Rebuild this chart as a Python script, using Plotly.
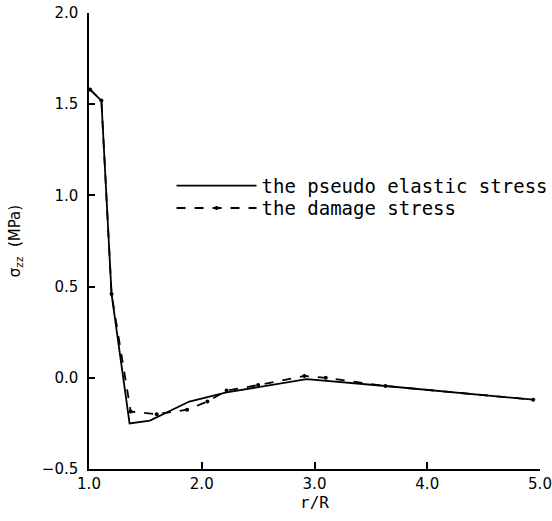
import plotly.graph_objects as go

# Pseudo elastic stress (solid line)
x_elastic = [1.01, 1.11, 1.20, 1.36, 1.54, 1.89, 2.22, 2.93, 3.63, 4.94]
y_elastic = [1.58, 1.52, 0.46, -0.25, -0.235, -0.13, -0.08, -0.007, -0.045, -0.12]

# Damage stress (dashed line with dots)
x_damage = [1.01, 1.11, 1.20, 1.37, 1.60, 1.87, 2.05, 2.22, 2.50, 2.91, 3.10, 3.63, 4.94]
y_damage = [1.58, 1.52, 0.46, -0.185, -0.20, -0.175, -0.13, -0.07, -0.04, 0.01, 0.0, -0.045, -0.12]

x_ticks = [1.0, 2.0, 3.0, 4.0, 5.0]
x_labels = ["1.0", "2.0", "3.0", "4.0", "5.0"]
y_ticks = [-0.5, 0.0, 0.5, 1.0, 1.5, 2.0]
y_labels = ["\u22120.5", "0.0", "0.5", "1.0", "1.5", "2.0"]

font = "DejaVu Sans"
mono = "DejaVu Sans Mono"

fig = go.Figure()
fig.add_trace(go.Scatter(
    x=x_elastic, y=y_elastic, mode="lines", name="the pseudo elastic stress",
    line=dict(color="black", width=1.8), legend="legend"))
fig.add_trace(go.Scatter(
    x=x_damage, y=y_damage, mode="lines+markers", name="the damage stress",
    line=dict(color="black", width=1.8, dash="dash"),
    marker=dict(color="black", size=4), legend="legend2"))

leg_common = dict(xanchor="left", yanchor="middle", bgcolor="rgba(0,0,0,0)",
                  font=dict(size=19, family=mono), itemwidth=80)

fig.update_layout(
    width=552, height=521,
    margin=dict(l=89, r=12, t=13, b=52, autoexpand=False),
    paper_bgcolor="white", plot_bgcolor="white",
    font=dict(family=font, size=15, color="black"),
    showlegend=True,
    legend=dict(x=0.183, y=0.621, **leg_common),
    legend2=dict(x=0.183, y=0.572, **leg_common),
    xaxis=dict(range=[1.0, 5.0], tickvals=x_ticks, ticktext=x_labels,
               showgrid=False, zeroline=False, showline=True, linecolor="black", linewidth=1.5,
               ticks="inside", ticklen=7, tickcolor="black", tickwidth=1.5,
               automargin=False, ticklabeloverflow="allow",
               title=dict(text="r/R", standoff=0, font=dict(size=16, family=mono))),
    yaxis=dict(range=[-0.5, 2.0], tickvals=y_ticks, ticktext=y_labels,
               showgrid=False, zeroline=False, showline=True, linecolor="black", linewidth=1.5,
               ticks="inside", ticklen=6, tickcolor="black", tickwidth=1.5,
               ticklabelstandoff=6, automargin=False, ticklabeloverflow="allow",
               title=dict(text="\u03c3<sub>zz</sub>  (MPa)", standoff=18, font=dict(size=15))),
)

fig.write_html("out.html", config={"displayModeBar": False},
               post_script="document.body.style.margin='0';document.body.style.overflow='hidden';")
